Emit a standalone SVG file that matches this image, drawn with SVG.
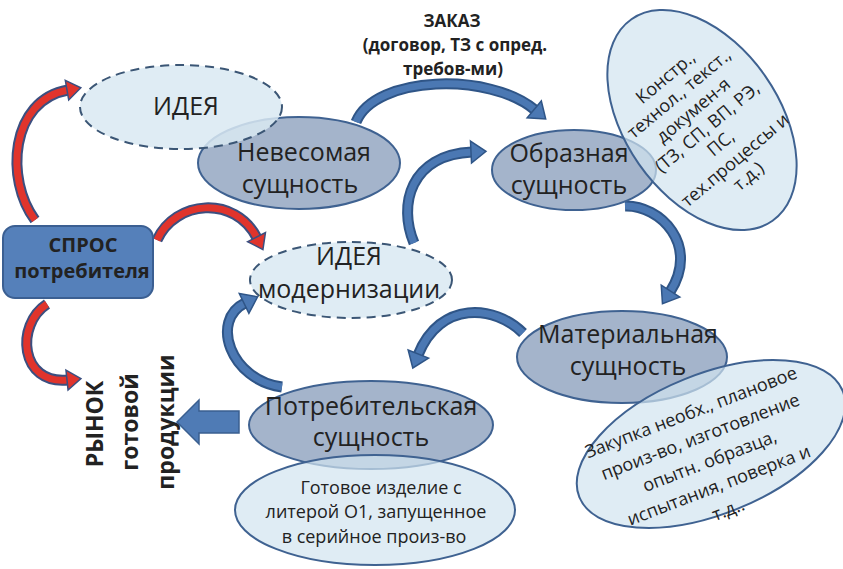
<svg xmlns="http://www.w3.org/2000/svg" width="843" height="569" viewBox="0 0 843 569">
<style>
.bg{fill:#ffffff}
.dark{fill:#a4b4cb;stroke:#3f6291;stroke-width:2}
.info{fill:#d2e4ef;fill-opacity:0.7;stroke:#3f6291;stroke-width:2}
.idea{fill:#d9e9f2;fill-opacity:0.85;stroke:#3b5675;stroke-width:2;stroke-dasharray:9 6}
.lbl{font-family:"Open Sans","DejaVu Sans",sans-serif;font-size:25px;fill:#222;text-anchor:middle}
.small{font-family:"Open Sans","DejaVu Sans",sans-serif;font-size:18px;fill:#222;text-anchor:middle}
.bold{font-family:"Open Sans","DejaVu Sans",sans-serif;font-weight:bold;fill:#222;text-anchor:middle}
.bedge{fill:none;stroke:#2f5587;stroke-width:11}
.bfill{fill:none;stroke:#4b78b3;stroke-width:7}
.redge{fill:none;stroke:#3b4f80;stroke-width:11}
.rfill{fill:none;stroke:#e0342c;stroke-width:7}
</style>
<defs>
<marker id="hb" markerUnits="userSpaceOnUse" markerWidth="30" markerHeight="30" refX="1" refY="12" orient="auto" overflow="visible">
<path d="M0,1 L15,12 L0,23 Z" fill="#4b78b3" stroke="#2f5587" stroke-width="1.5"/>
</marker>
<marker id="hr" markerUnits="userSpaceOnUse" markerWidth="30" markerHeight="30" refX="1" refY="12" orient="auto" overflow="visible">
<path d="M0,2 L14,12 L0,22 Z" fill="#e0342c" stroke="#3b4f80" stroke-width="1.5"/>
</marker>
</defs>
<rect class="bg" x="0" y="0" width="843" height="569"/>

<g id="connectors">
<path class="bedge" d="M356,122 C375,75 490,72 535,110"/>
<path class="bfill" d="M356,122 C375,75 490,72 535,110" marker-end="url(#hb)"/>
<path class="bedge" d="M414,243 C398,205 410,155 472,152"/>
<path class="bfill" d="M414,243 C398,205 410,155 472,152" marker-end="url(#hb)"/>
<path class="bedge" d="M625,206 C660,205 700,245 670,292"/>
<path class="bfill" d="M625,206 C660,205 700,245 670,292" marker-end="url(#hb)"/>
<path class="bedge" d="M523,333 C495,305 440,300 418,355"/>
<path class="bfill" d="M523,333 C495,305 440,300 418,355" marker-end="url(#hb)"/>
<path class="bedge" d="M282,387 C230,380 210,320 245,303"/>
<path class="bfill" d="M282,387 C230,380 210,320 245,303" marker-end="url(#hb)"/>
<path class="redge" d="M35,220 C5,180 10,100 68,90"/>
<path class="rfill" d="M35,220 C5,180 10,100 68,90" marker-end="url(#hr)"/>
<path class="redge" d="M157,240 C175,200 235,195 257,238"/>
<path class="rfill" d="M157,240 C175,200 235,195 257,238" marker-end="url(#hr)"/>
<path class="redge" d="M47,304 C15,325 20,385 68,380"/>
<path class="rfill" d="M47,304 C15,325 20,385 68,380" marker-end="url(#hr)"/>
<path d="M177,422 L199,400 L199,411 L239,411 L239,433 L199,433 L199,444 Z" fill="#4f7bb5" stroke="#3a5f90" stroke-width="1.5"/>
</g>

<g id="zakaz-label">
<text class="bold" font-size="17" x="452" y="27">ЗАКАЗ</text>
<text class="bold" font-size="17" x="455" y="51">(договор, ТЗ с опред.</text>
<text class="bold" font-size="17" x="453" y="75">требов-ми)</text>
</g>

<g id="node-nevesomaya">
<ellipse class="dark" cx="299" cy="163" rx="101" ry="46"/>
<text class="lbl" x="304" y="161">Невесомая</text>
<text class="lbl" x="300" y="193">сущность</text>
</g>

<g id="node-idea">
<ellipse class="idea" cx="181" cy="107" rx="101" ry="42"/>
<text class="lbl" x="186" y="115">ИДЕЯ</text>
</g>

<g id="node-obraznaya">
<ellipse class="dark" cx="574" cy="170" rx="82" ry="40"/>
<text class="lbl" x="569" y="162">Образная</text>
<text class="lbl" x="569" y="194">сущность</text>
</g>

<g id="node-docs">
<ellipse class="info" cx="702" cy="120" rx="123" ry="77" transform="rotate(55 702 120)"/>
<g transform="translate(708,128) rotate(-40)">
<text class="small" x="0" y="-60">Констр.,</text>
<text class="small" x="0" y="-39">технол., текст.,</text>
<text class="small" x="0" y="-17">докумен-я</text>
<text class="small" x="0" y="5">(ТЗ, СП, ВП, РЭ,</text>
<text class="small" x="0" y="26">ПС,</text>
<text class="small" x="0" y="48">тех.процессы и</text>
<text class="small" x="0" y="69">т.д.)</text>
</g>
</g>

<g id="node-spros">
<rect x="3" y="226" width="150" height="72" rx="12" ry="12" fill="#5580ba" stroke="#3b5f92" stroke-width="2"/>
<text class="bold" font-size="20" fill="#1b2537" x="83" y="252">СПРОС</text>
<text class="bold" font-size="20" fill="#1b2537" x="82" y="278">потребителя</text>
</g>

<g id="node-idea-mod">
<ellipse class="idea" cx="351" cy="280" rx="101" ry="38"/>
<text class="lbl" x="349" y="265">ИДЕЯ</text>
<text class="lbl" x="349" y="298">модернизации</text>
</g>

<g id="node-materialnaya">
<ellipse class="dark" cx="622" cy="357" rx="105" ry="46"/>
<text class="lbl" x="628" y="343">Материальная</text>
<text class="lbl" x="628" y="375">сущность</text>
</g>

<g id="node-production">
<ellipse class="info" cx="711" cy="444" rx="142" ry="70" transform="rotate(-22 711 444)"/>
<g transform="translate(710,462) rotate(-21)">
<text class="small" font-size="21" x="0" y="-47">Закупка необх., плановое</text>
<text class="small" font-size="21" x="0" y="-21">произ-во, изготовление</text>
<text class="small" font-size="21" x="0" y="5">опытн. образца,</text>
<text class="small" font-size="21" x="0" y="31">испытания, поверка и</text>
<text class="small" font-size="21" x="0" y="57">т.д..</text>
</g>
</g>

<g id="node-potrebitelskaya">
<ellipse class="dark" cx="371" cy="425" rx="122" ry="44"/>
<text class="lbl" font-size="26" x="371" y="415">Потребительская</text>
<text class="lbl" font-size="26" x="371" y="446">сущность</text>
</g>

<g id="node-ready">
<ellipse class="info" cx="375" cy="510" rx="140" ry="55"/>
<text class="small" font-size="21" x="381" y="494">Готовое изделие с</text>
<text class="small" font-size="21" x="376" y="518">литерой О1, запущенное</text>
<text class="small" font-size="21" x="374" y="543">в серийное произ-во</text>
</g>

<g id="node-rynok">
<text class="bold" font-size="23" transform="translate(103,424) rotate(-90)">РЫНОК</text>
<text class="bold" font-size="23" transform="translate(138,422) rotate(-90)">готовой</text>
<text class="bold" font-size="23" transform="translate(174,422) rotate(-90)">продукции</text>
</g>
</svg>
